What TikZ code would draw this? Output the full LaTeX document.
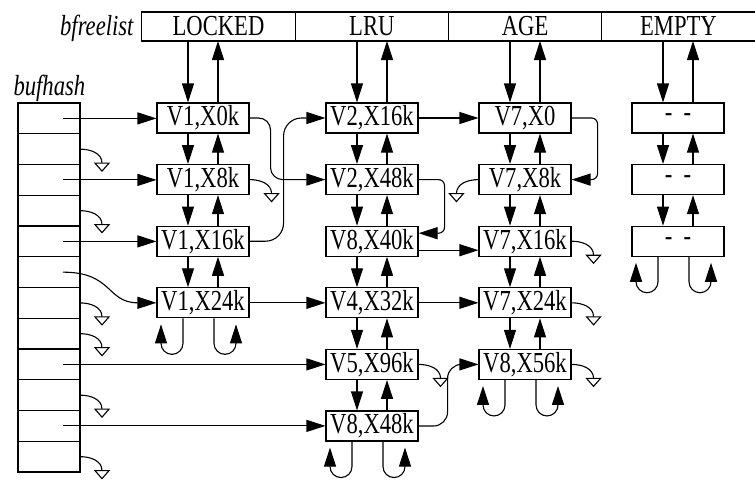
\documentclass[tikz,border=0pt]{standalone}
\usepackage{fontspec}
\setmainfont{Liberation Serif}[FakeStretch=0.78]
\usetikzlibrary{arrows.meta,positioning}

\tikzset{
  gnd/.pic={
    \draw (0,0) to[out=0,in=90] (22,-14);
    \draw[fill=white] (15,-14) -- (29,-14) -- (22,-22) -- cycle;
  }
}

\begin{document}
\begin{tikzpicture}[
  x=1pt,y=1pt,
  line width=1.1pt,
  font=\fontsize{29}{31}\selectfont,
  node distance=30.5pt and 60pt,
  buf/.style={draw,minimum width=92pt,minimum height=30pt,inner sep=0pt},
  hdr/.style={draw,minimum width=153.3pt,minimum height=29pt,inner sep=0pt,outer sep=0pt},
  slot/.style={draw,minimum width=62pt,minimum height=30.75pt,inner sep=0pt,outer sep=0pt},
  ptr/.style={-{Triangle[length=19pt,width=12pt]}},
  link/.style={ptr,rounded corners=#1}
]
  \useasboundingbox (0,0) rectangle (755,-485);

  % free list header
  \node[hdr] (locked) at (218.5,-26.5) {LOCKED};
  \node[hdr,right=0pt of locked] (lru) {LRU};
  \node[hdr,right=0pt of lru] (age) {AGE};
  \node[hdr,right=0pt of age] (empty) {EMPTY};
  \node[anchor=base east,inner sep=0pt] (freelbl) at (134,-35) {\itshape bfreelist};
  \node[anchor=base west,inner sep=0pt] (hashlbl) at (13,-95) {\itshape bufhash};

  % hash slots
  \foreach \i in {0,...,11}
    \node[slot] (h\i) at (49,{-118.4-30.75*\i}) {};

  % buffers
  \node[buf] (v1x0) at (203,-118) {V1,X0k};
  \node[buf,below=of v1x0] (v1x8) {V1,X8k};
  \node[buf,below=of v1x8] (v1x16) {V1,X16k};
  \node[buf,below=of v1x16] (v1x24) {V1,X24k};

  \node[buf] (v2x16) at (372,-118) {V2,X16k};
  \node[buf,below=of v2x16] (v2x48) {V2,X48k};
  \node[buf,below=of v2x48] (v8x40) {V8,X40k};
  \node[buf,below=of v8x40] (v4x32) {V4,X32k};
  \node[buf,below=of v4x32] (v5x96) {V5,X96k};
  \node[buf,below=of v5x96] (v8x48) {V8,X48k};

  \node[buf] (v7x0) at (525,-118) {V7,X0};
  \node[buf,below=of v7x0] (v7x8) {V7,X8k};
  \node[buf,below=of v7x8] (v7x16) {V7,X16k};
  \node[buf,below=of v7x16] (v7x24) {V7,X24k};
  \node[buf,below=of v7x24] (v8x56) {V8,X56k};

  \node[buf] (e1) at (678,-118) {-~~-};
  \node[buf,below=of e1] (e2) {-~~-};
  \node[buf,below=of e2] (e3) {-~~-};

  % free list pointers
  \foreach \n/\h in {v1x0/locked,v2x16/lru,v7x0/age,e1/empty} {
    \draw[ptr] ([xshift=-15pt]\n.north |- \h.south) -- ([xshift=-15pt]\n.north);
    \draw[ptr] ([xshift=15pt]\n.north) -- ([xshift=15pt]\n.north |- \h.south);
  }
  \foreach \a/\b in {v1x0/v1x8,v1x8/v1x16,v1x16/v1x24,
                     v2x16/v2x48,v2x48/v8x40,v8x40/v4x32,v4x32/v5x96,v5x96/v8x48,
                     v7x0/v7x8,v7x8/v7x16,v7x16/v7x24,v7x24/v8x56,e1/e2,e2/e3} {
    \draw[ptr] ([xshift=-15pt]\a.south) -- ([xshift=-15pt]\b.north);
    \draw[ptr] ([xshift=15pt]\b.north) -- ([xshift=15pt]\a.south);
  }
  \foreach \n in {v1x24,v8x48,v8x56,e3} {
    \draw[ptr] ([xshift=-20pt]\n.south) -- ++(0,-25)
      arc[start angle=0,end angle=-180,radius=11pt] -- ++(0,19);
    \draw[ptr] ([xshift=11pt]\n.south) -- ++(0,-25)
      arc[start angle=180,end angle=360,radius=11pt] -- ++(0,19);
  }

  % hash chains
  \foreach \i/\n in {0/v1x0,2/v1x8,4/v1x16,8/v5x96,10/v8x48}
    \draw[ptr] ([xshift=14pt]h\i.center) -- (h\i.center -| \n.west);
  \draw[ptr] ([xshift=14pt]h5.center) .. controls +(50,0) and +(-50,0) .. (v1x24.west);
  \foreach \i in {1,3,6,7,9,11}
    \pic at (h\i.east) {gnd};

  \draw[link=12pt] (v1x0.east) -- ++(21,0) |- (v2x48.west);
  \draw[link=18pt] (v1x16.east) -- ++(34,0) |- (v2x16.west);
  \draw[ptr] (v1x24) -- (v4x32);
  \draw[ptr] (v2x16) -- (v7x0);
  \draw[link=6pt] (v2x48.east) -- ++(26,0) |- ([yshift=8pt]v8x40.east);
  \draw[ptr] ([yshift=-9pt]v8x40.east) -- ([yshift=-9pt]v8x40.east -| v7x16.west);
  \draw[ptr] (v4x32) -- (v7x24);
  \draw[link=14pt] (v8x48.east) -- ++(29,0) |- (v8x56.west);
  \draw[link=6pt] (v7x0.east) -- ++(26,0) |- (v7x8.east);

  \foreach \n in {v1x8,v5x96,v7x16,v7x24,v8x56}
    \pic at (\n.east) {gnd};
  \pic[xscale=-1] at (v7x8.west) {gnd};
\end{tikzpicture}
\end{document}
